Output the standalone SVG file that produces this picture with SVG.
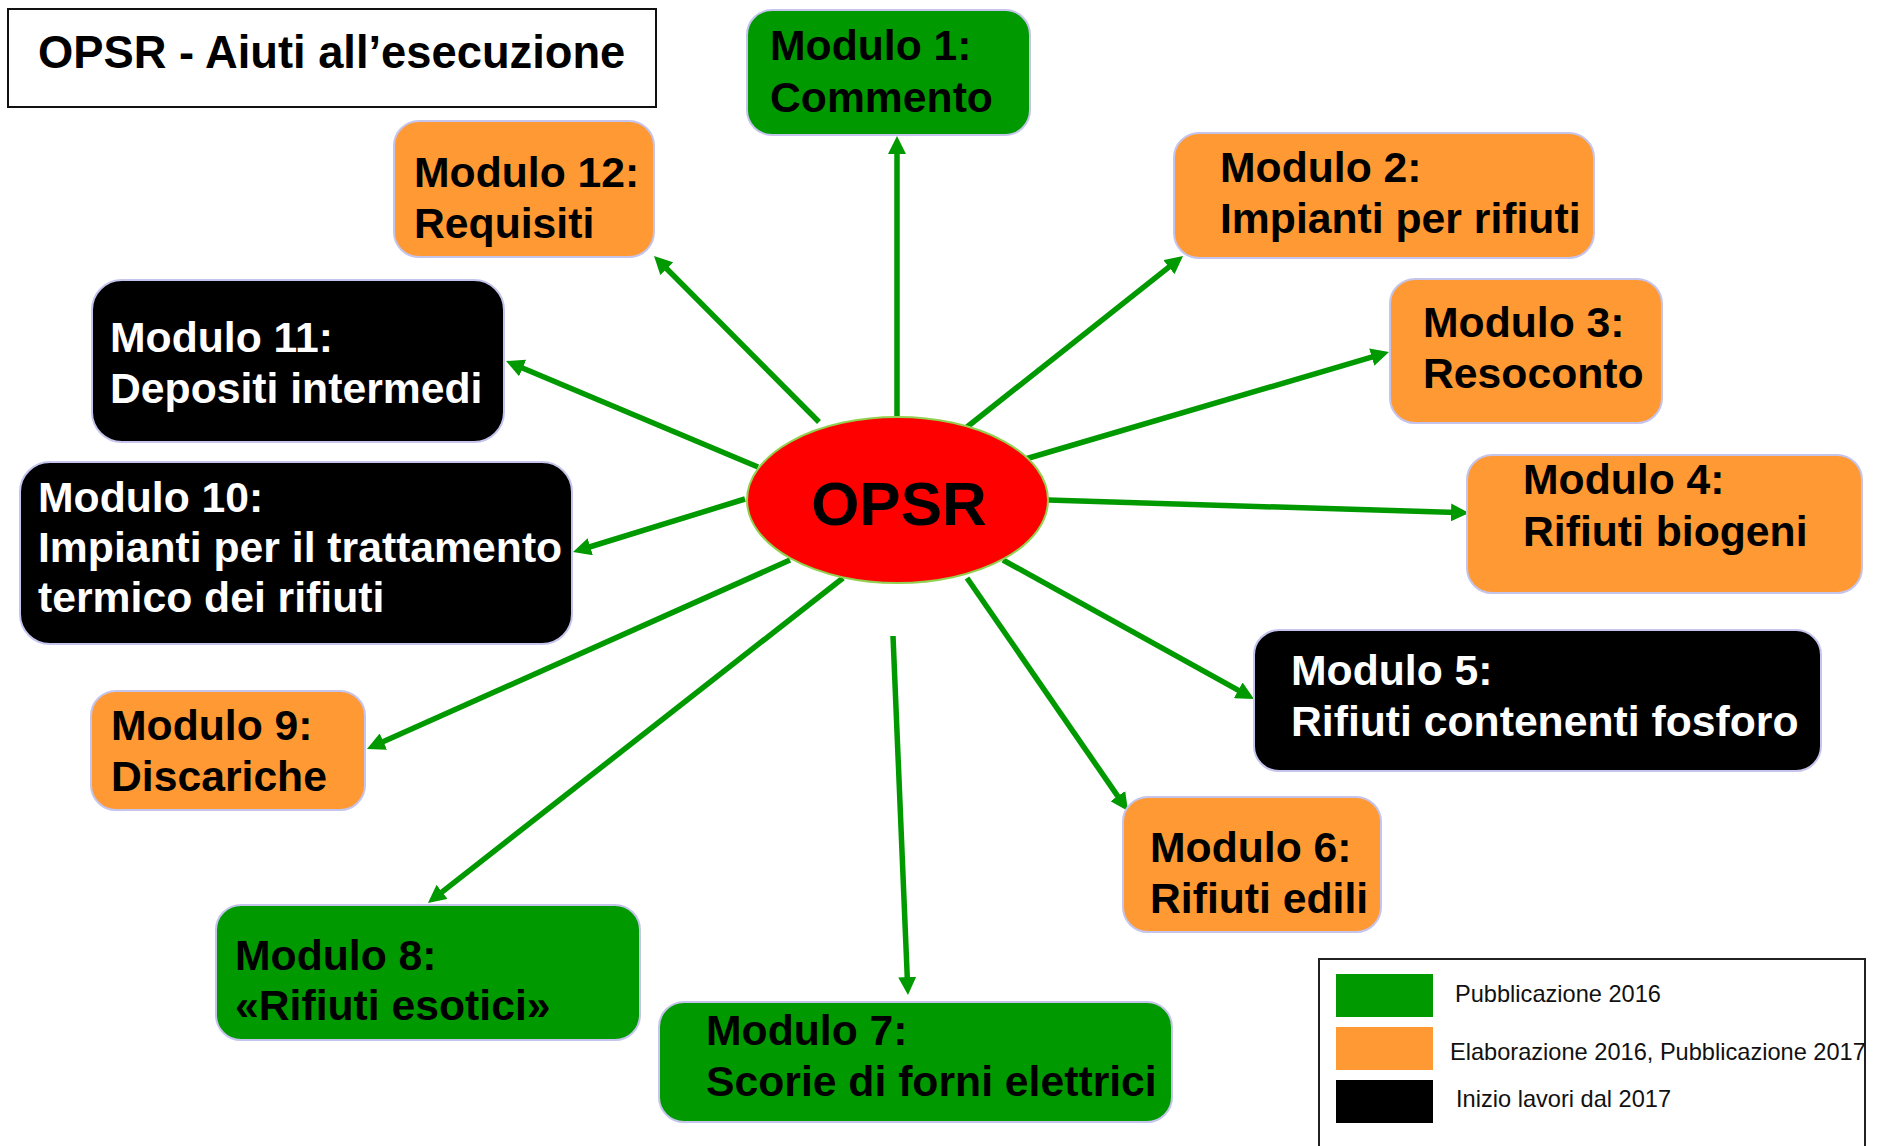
<svg xmlns="http://www.w3.org/2000/svg" width="1881" height="1146" viewBox="0 0 1881 1146">
<style>
.box{stroke:#C4C4EC;stroke-width:2}
.g{fill:#009900}
.o{fill:#FF9933}
.k{fill:#000000}
.t{font-family:"Liberation Sans",Arial,sans-serif;font-weight:bold;font-size:42.7px}
.tb{fill:#000}
.tw{fill:#fff}
.con line{stroke:#009900;stroke-width:5.5;marker-end:url(#ah)}
.leg{font-family:"Liberation Sans",Arial,sans-serif;font-size:23.6px;fill:#111}
</style>
<defs>
<marker id="ah" markerUnits="userSpaceOnUse" viewBox="0 0 18 18" markerWidth="18" markerHeight="18" refX="6" refY="9" orient="auto">
<path d="M0,0 L18,9 L0,18 z" fill="#009900"/>
</marker>
</defs>
<rect width="1881" height="1146" fill="#fff"/>

<g id="title">
<rect x="8" y="9" width="648" height="98" fill="#fff" stroke="#111" stroke-width="2"/>
<text x="38" y="68" font-family="'Liberation Sans',Arial,sans-serif" font-weight="bold" font-size="45.3">OPSR - Aiuti all’esecuzione</text>
</g>

<g class="con" id="connectors">
<line x1="897" y1="417" x2="897" y2="148"/>
<line x1="819" y1="422" x2="662.5" y2="264.5"/>
<line x1="967" y1="427" x2="1173.6" y2="263.4"/>
<line x1="1022" y1="460" x2="1377.5" y2="355.4"/>
<line x1="1048" y1="500" x2="1457" y2="512.6"/>
<line x1="1003" y1="560" x2="1243.5" y2="693.2"/>
<line x1="967" y1="578" x2="1121.2" y2="801.1"/>
<line x1="893" y1="636" x2="907.5" y2="983"/>
<line x1="843" y1="578" x2="437.4" y2="895.6"/>
<line x1="790" y1="560" x2="377.9" y2="744.1"/>
<line x1="745" y1="499" x2="584.5" y2="548.5"/>
<line x1="758" y1="467" x2="517.1" y2="365.7"/>
</g>

<g id="opsr">
<ellipse cx="897.5" cy="500" rx="150.5" ry="83" fill="#FF0000" stroke="#92D050" stroke-width="2"/>
<text x="899" y="525" text-anchor="middle" font-family="'Liberation Sans',Arial,sans-serif" font-weight="bold" font-size="62">OPSR</text>
</g>

<g id="m1">
<rect class="box g" x="747" y="10" width="283" height="125" rx="25"/>
<text class="t tb" x="770" y="60">Modulo 1:</text>
<text class="t tb" x="770" y="112">Commento</text>
</g>

<g id="m2">
<rect class="box o" x="1174" y="133" width="420" height="125" rx="25"/>
<text class="t tb" x="1220" y="182">Modulo 2:</text>
<text class="t tb" x="1220" y="233">Impianti per rifiuti</text>
</g>

<g id="m3">
<rect class="box o" x="1390" y="279" width="272" height="144" rx="25"/>
<text class="t tb" x="1423" y="337">Modulo 3:</text>
<text class="t tb" x="1423" y="388">Resoconto</text>
</g>

<g id="m4">
<rect class="box o" x="1467" y="455" width="395" height="138" rx="25"/>
<text class="t tb" x="1523" y="494">Modulo 4:</text>
<text class="t tb" x="1523" y="546">Rifiuti biogeni</text>
</g>

<g id="m5">
<rect class="box k" x="1254" y="630" width="567" height="141" rx="25"/>
<text class="t tw" x="1291" y="685">Modulo 5:</text>
<text class="t tw" x="1291" y="736">Rifiuti contenenti fosforo</text>
</g>

<g id="m6">
<rect class="box o" x="1123" y="797" width="258" height="135" rx="25"/>
<text class="t tb" x="1150" y="862">Modulo 6:</text>
<text class="t tb" x="1150" y="913">Rifiuti edili</text>
</g>

<g id="m7">
<rect class="box g" x="659" y="1002" width="513" height="120" rx="25"/>
<text class="t tb" x="706" y="1045">Modulo 7:</text>
<text class="t tb" x="706" y="1096">Scorie di forni elettrici</text>
</g>

<g id="m8">
<rect class="box g" x="216" y="905" width="424" height="135" rx="25"/>
<text class="t tb" x="235" y="970">Modulo 8:</text>
<text class="t tb" x="235" y="1020">«Rifiuti esotici»</text>
</g>

<g id="m9">
<rect class="box o" x="91" y="691" width="274" height="119" rx="25"/>
<text class="t tb" x="111" y="740">Modulo 9:</text>
<text class="t tb" x="111" y="791">Discariche</text>
</g>

<g id="m10">
<rect class="box k" x="20" y="462" width="552" height="182" rx="30"/>
<text class="t tw" x="38" y="512">Modulo 10:</text>
<text class="t tw" x="38" y="562">Impianti per il trattamento</text>
<text class="t tw" x="38" y="612">termico dei rifiuti</text>
</g>

<g id="m11">
<rect class="box k" x="92" y="280" width="412" height="162" rx="30"/>
<text class="t tw" x="110" y="352">Modulo 11:</text>
<text class="t tw" x="110" y="403">Depositi intermedi</text>
</g>

<g id="m12">
<rect class="box o" x="394" y="121" width="260" height="136" rx="25"/>
<text class="t tb" x="414" y="187">Modulo 12:</text>
<text class="t tb" x="414" y="238">Requisiti</text>
</g>

<g id="legend">
<rect x="1319" y="959" width="546" height="210" fill="none" stroke="#222" stroke-width="2"/>
<rect x="1336" y="974" width="97" height="43" fill="#009900"/>
<rect x="1336" y="1027" width="97" height="43" fill="#FF9933"/>
<rect x="1336" y="1080" width="97" height="43" fill="#000"/>
<text class="leg" x="1455" y="1002">Pubblicazione 2016</text>
<text class="leg" x="1450" y="1060">Elaborazione 2016, Pubblicazione 2017</text>
<text class="leg" x="1456" y="1107">Inizio lavori dal 2017</text>
</g>
</svg>
